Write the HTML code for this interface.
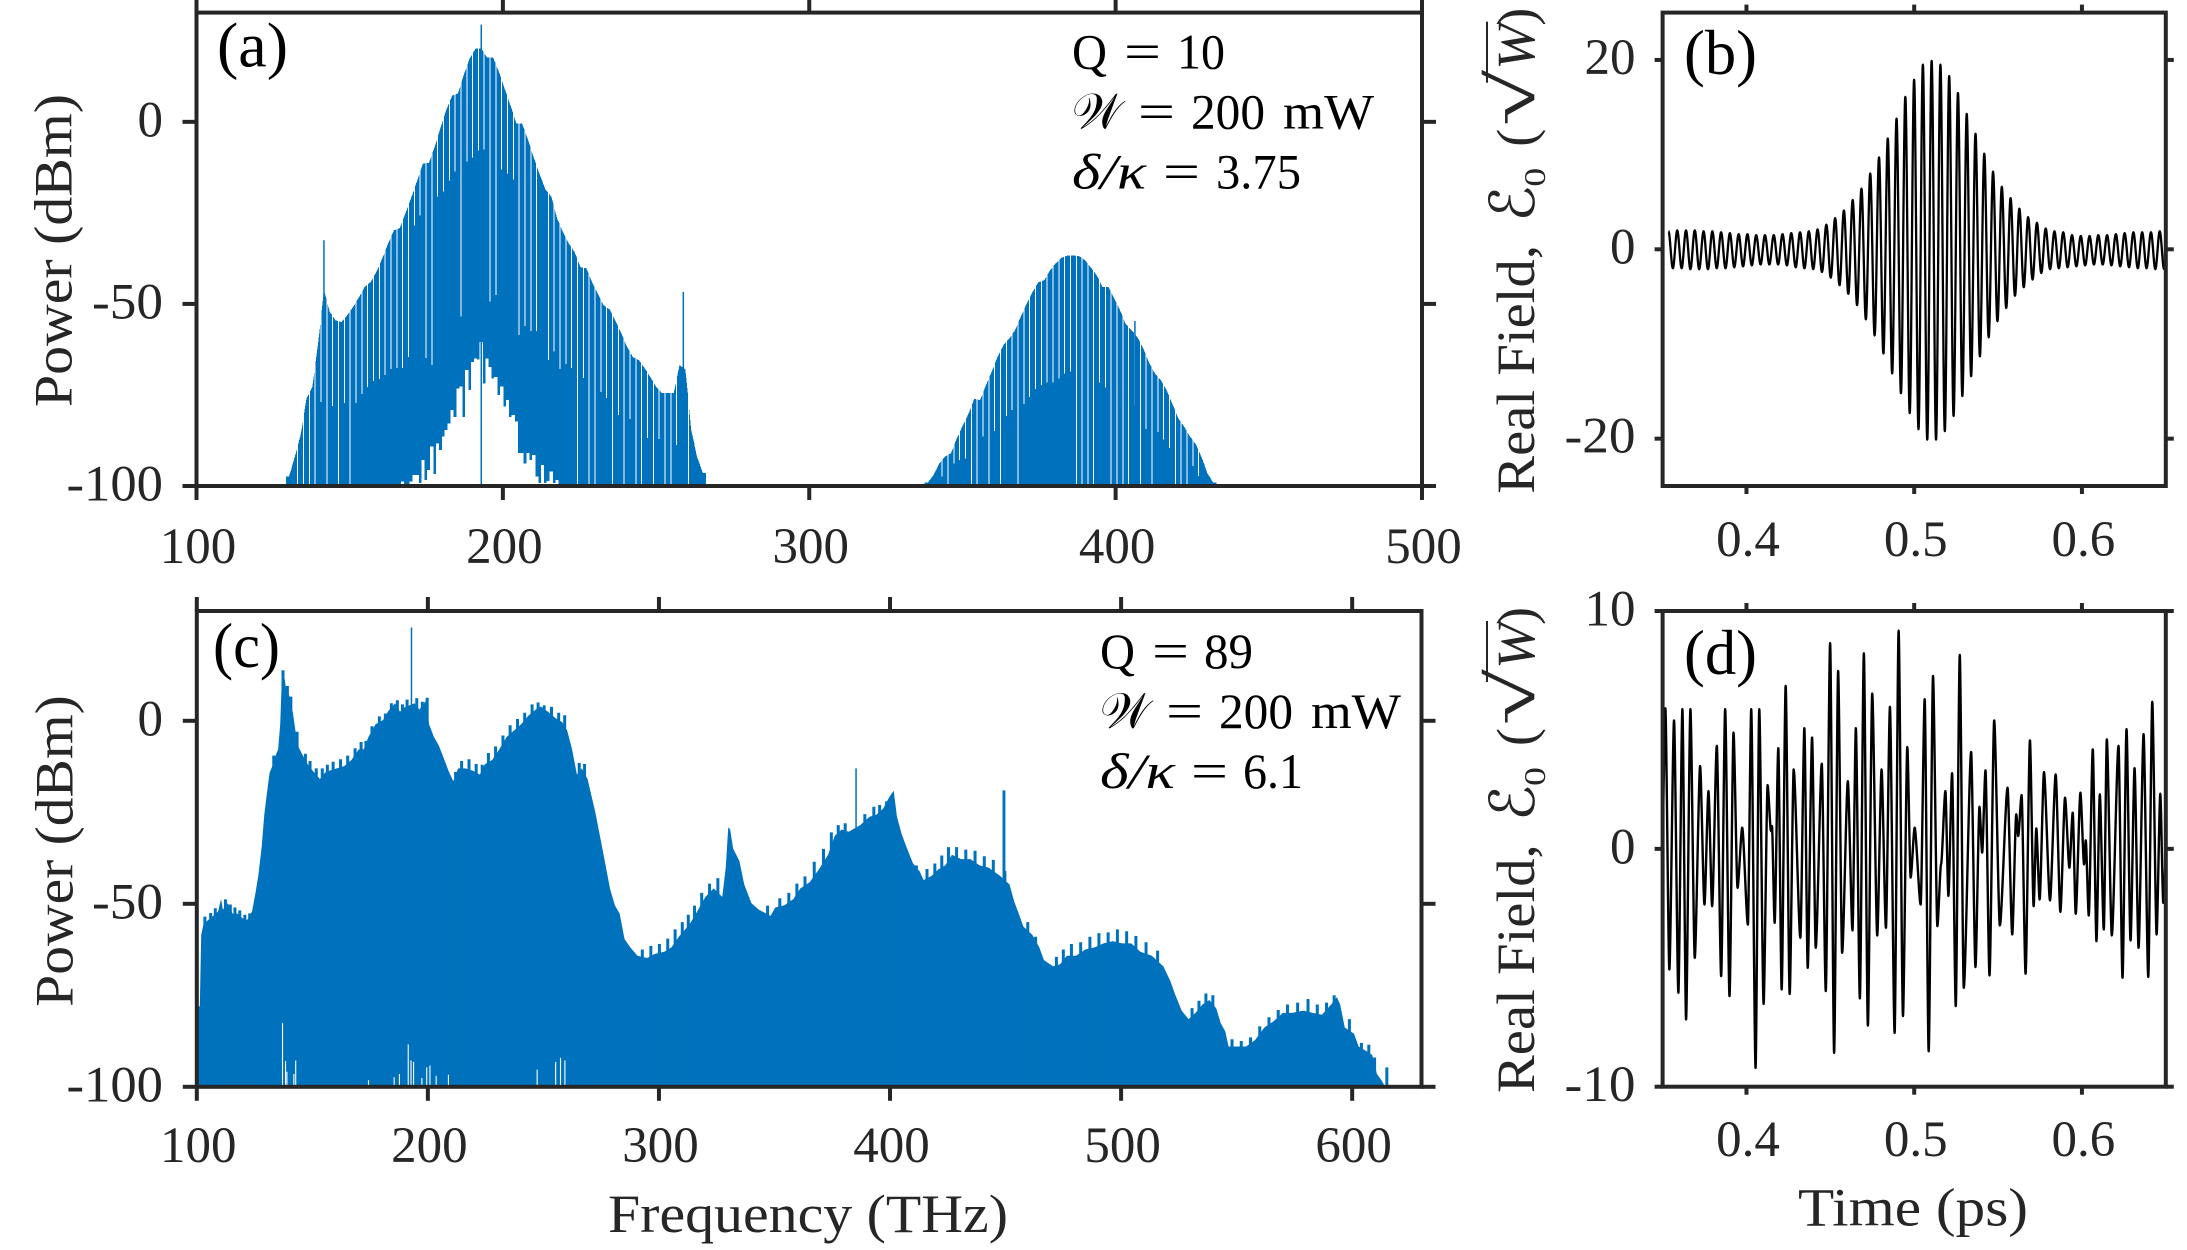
<!DOCTYPE html>
<html lang="en">
<head>
<meta charset="utf-8">
<title>Comb spectra and real field</title>
<style>
html,body{margin:0;padding:0;background:#fff;}
svg{display:block;}
text{font-family:"Liberation Serif","DejaVu Serif",serif;fill:#262626;}
.tick-label{font-size:51px;}
.axis-title{font-size:54px;}
.note text{font-size:50px;fill:#000;}
.panel-tag{font-size:64px;fill:#000;}
.spine{fill:none;stroke:#262626;stroke-width:4;}
.tick{stroke:#262626;stroke-width:4;}
</style>
</head>
<body>
<svg id="figure" xmlns="http://www.w3.org/2000/svg" width="2187" height="1250" viewBox="0 0 2187 1250">
  <defs>
    <clipPath id="clipA"><rect x="196.5" y="12.6" width="1225.5" height="473.4"/></clipPath>
    <clipPath id="clipB"><rect x="1662.6" y="12.6" width="503.2" height="473.4"/></clipPath>
    <clipPath id="clipC"><rect x="196.8" y="611" width="1224.7" height="475.6"/></clipPath>
    <clipPath id="clipD"><rect x="1662.6" y="611" width="503.2" height="475.6"/></clipPath>
  </defs>
  <rect x="0" y="0" width="2187" height="1250" fill="#fff"/>

  <g id="marksA" clip-path="url(#clipA)"></g>
  <g id="marksB" clip-path="url(#clipB)"></g>
  <g id="marksC" clip-path="url(#clipC)"></g>
  <g id="marksD" clip-path="url(#clipD)"></g>
  <g id="axes"></g>

  <text class="panel-tag" x="217" y="66.5" textLength="71" lengthAdjust="spacingAndGlyphs">(a)</text>
  <text class="panel-tag" x="1684" y="74" textLength="73" lengthAdjust="spacingAndGlyphs">(b)</text>
  <text class="panel-tag" x="213" y="667" textLength="67" lengthAdjust="spacingAndGlyphs">(c)</text>
  <text class="panel-tag" x="1684" y="674" textLength="73" lengthAdjust="spacingAndGlyphs">(d)</text>

  <g class="note">
    <text x="1072" y="68.4" textLength="35" lengthAdjust="spacingAndGlyphs">Q</text>
    <text x="1124" y="68.4" textLength="37" lengthAdjust="spacingAndGlyphs">=</text>
    <text x="1177" y="68.4" textLength="48" lengthAdjust="spacingAndGlyphs">10</text>
  </g>
  <g class="note">
    <text x="1072" y="128.4" textLength="50" lengthAdjust="spacingAndGlyphs">𝒲</text>
    <text x="1138" y="128.4" textLength="37" lengthAdjust="spacingAndGlyphs">=</text>
    <text x="1191" y="128.4" textLength="74" lengthAdjust="spacingAndGlyphs">200</text>
    <text x="1283" y="128.4" textLength="91" lengthAdjust="spacingAndGlyphs">mW</text>
  </g>
  <g class="note">
    <text x="1072" y="188.7" font-style="italic" textLength="74" lengthAdjust="spacingAndGlyphs">δ/κ</text>
    <text x="1163" y="188.7" textLength="37" lengthAdjust="spacingAndGlyphs">=</text>
    <text x="1216" y="188.7" textLength="85" lengthAdjust="spacingAndGlyphs">3.75</text>
  </g>

  <g class="note">
    <text x="1100" y="668" textLength="35" lengthAdjust="spacingAndGlyphs">Q</text>
    <text x="1152" y="668" textLength="37" lengthAdjust="spacingAndGlyphs">=</text>
    <text x="1204" y="668" textLength="49" lengthAdjust="spacingAndGlyphs">89</text>
  </g>
  <g class="note">
    <text x="1100" y="728" textLength="50" lengthAdjust="spacingAndGlyphs">𝒲</text>
    <text x="1166" y="728" textLength="37" lengthAdjust="spacingAndGlyphs">=</text>
    <text x="1219" y="728" textLength="74" lengthAdjust="spacingAndGlyphs">200</text>
    <text x="1311" y="728" textLength="90" lengthAdjust="spacingAndGlyphs">mW</text>
  </g>
  <g class="note">
    <text x="1100" y="787.8" font-style="italic" textLength="75" lengthAdjust="spacingAndGlyphs">δ/κ</text>
    <text x="1191" y="787.8" textLength="37" lengthAdjust="spacingAndGlyphs">=</text>
    <text x="1243" y="787.8" textLength="60" lengthAdjust="spacingAndGlyphs">6.1</text>
  </g>

  <text class="axis-title" transform="translate(71.5,407) rotate(-90)" textLength="313" lengthAdjust="spacingAndGlyphs">Power (dBm)</text>
  <text class="axis-title" transform="translate(72.7,1006.7) rotate(-90)" textLength="311.5" lengthAdjust="spacingAndGlyphs">Power (dBm)</text>
  <text class="axis-title" x="608" y="1232" textLength="400" lengthAdjust="spacingAndGlyphs">Frequency (THz)</text>
  <text class="axis-title" x="1798" y="1225.5" textLength="230" lengthAdjust="spacingAndGlyphs">Time (ps)</text>

  <g transform="translate(1534,493.7) rotate(-90)">
    <text class="axis-title" x="0" y="0" textLength="248.7" lengthAdjust="spacingAndGlyphs">Real Field,</text>
    <text x="272" y="0" font-size="62" textLength="36" lengthAdjust="spacingAndGlyphs">ℰ</text>
    <text x="307" y="11" font-size="31" textLength="19" lengthAdjust="spacingAndGlyphs">0</text>
    <text class="axis-title" x="347" y="0">(</text>
    <text x="368" y="0" font-size="66" textLength="56" lengthAdjust="spacingAndGlyphs">√</text>
    <line x1="411" y1="-47" x2="472" y2="-47" stroke="#262626" stroke-width="2"/>
    <text class="axis-title" x="424" y="0" font-style="italic" textLength="46" lengthAdjust="spacingAndGlyphs">W</text>
    <text class="axis-title" x="468" y="0">)</text>
  </g>
  <g transform="translate(1534,1093) rotate(-90)">
    <text class="axis-title" x="0" y="0" textLength="248.7" lengthAdjust="spacingAndGlyphs">Real Field,</text>
    <text x="272" y="0" font-size="62" textLength="36" lengthAdjust="spacingAndGlyphs">ℰ</text>
    <text x="307" y="11" font-size="31" textLength="19" lengthAdjust="spacingAndGlyphs">0</text>
    <text class="axis-title" x="347" y="0">(</text>
    <text x="368" y="0" font-size="66" textLength="56" lengthAdjust="spacingAndGlyphs">√</text>
    <line x1="411" y1="-47" x2="472" y2="-47" stroke="#262626" stroke-width="2"/>
    <text class="axis-title" x="424" y="0" font-style="italic" textLength="46" lengthAdjust="spacingAndGlyphs">W</text>
    <text class="axis-title" x="468" y="0">)</text>
  </g>
</svg>

<script>
// ---------- Panel (a): comb spectrum (THz, dBm) ----------
var combSpacingA = 1.9027;
var lobe1StartA = 130.18;
var lobe1PeaksA = [-97.4,-92,-86,-76,-72.8,-60.8,-46.2,-52.2,-54.5,-55,-53.1,-50.8,-48.2,-45.3,-44,-41.2,-37.5,-33.4,-29.8,-29.2,-25,-20.7,-16.1,-11.4,-11.3,-6.8,-1.6,3.4,7.2,7.8,13,17.4,20.1,20.1,17.7,17.7,13.8,9.1,4.5,-0.4,-0.5,-4.9,-9.8,-14.4,-18.6,-20.5,-26.5,-30.3,-33.4,-35.8,-39.9,-40.2,-44,-47.3,-50.4,-51.5,-54.7,-58,-61.8,-64.6,-65.4,-67.6,-70.1,-72.8,-74.5,-74.5,-74.5,-66.8,-68,-84.6,-92,-96.4];
var lobe1TroughsA = [null,-100,-100,-100,-100,-77,-100,-78,-100,-77.2,-100,-77.2,-74.8,-72.8,-71.2,-70.6,-69.5,-67.9,-67.6,-67.6,-64.6,-28.4,-25.7,-64.9,-66.8,-20.5,-19.1,-16.1,-13.6,-53.4,-10.9,-9.8,-7.9,-7.6,-49.3,-47.6,-13.1,-14.2,-15.8,-58.6,-56.1,-57.5,-57.5,null,-65.4,-63,-67.9,-66.5,-67.6,-100,-70.4,-100,-100,-74.2,-75.9,-100,-80.5,-100,-81.6,-100,-100,-86.8,-100,-87.1,-100,-100,-88.7,null,-100,null,null,null];
var lobe2StartA = 338.63;
var lobe2PeaksA = [-99.1,-97,-93.8,-91.9,-91,-86.9,-83.5,-80.2,-76.1,-76.4,-72.3,-68.6,-64.5,-61.3,-59.5,-57.2,-53.4,-49.9,-46.7,-44,-43.5,-40.8,-38.8,-37.3,-36.7,-36.7,-36.9,-38,-40,-42.1,-45.3,-45.3,-48.5,-51.7,-55.6,-57.2,-59.2,-62.2,-66.2,-69.1,-70.9,-73.7,-77.5,-81.4,-83.7,-86.4,-88.5,-92.1,-96.5,-99.1];
var lobe2TroughsA = [null,null,-97.4,-100,-93.8,-92.8,-92.4,-100,-100,-86.4,-100,-84.9,-100,-80.8,-79.1,-100,-77.5,-75.5,-73.4,-72.3,-71.6,-71.6,-70.5,-69.1,-68.6,-100,-100,-100,-100,-71.6,-72.9,-100,-100,-100,-100,-77.8,-100,-84.3,-100,-85.2,-87.2,-89.6,-100,-100,-100,-94.5,-97.2,null,null,null];
var floorStartA = 166.74;
var floorStepA = 0.9513;
var floorLevelsA = [-98.8,-99.4,-99.4,-98.8,-97,-97,-99.2,-92.8,-98.3,-95.6,-89.2,-96.7,-88.3,-90.1,-86.4,-84.6,-82.8,-79.1,-81,-73.2,-72.7,-81,-68.2,-73.7,-65.9,-65,-65.3,-60.4,-71.8,-65,-67.3,-70.5,-70,-75,-72.7,-78.2,-76.4,-81,-80.5,-82.3,-91,-91,-93.8,-91,-92.8,-91.5,-97.4,-99.2,-94.2,-99.2,-98.6,-96,-99.2,-98.3,-99.4];
var spikeFreqsA = [141.6,192.95,258.9,406.3];
var spikePowersA = [-32.5,26.7,-46.7,-54.7];
var xTicksA = [100,200,300,400,500];
var yTicksA = [0,-50,-100];

// ---------- Panel (c): dense spectrum envelope (THz, dBm) ----------
var envFreqC = [100,101.3,101.9,102.9,105,107.1,109.2,110.5,111.3,113.4,115.5,117.6,119.7,121.8,123.9,125.4,126.6,128.1,129.2,130.2,131.5,132.7,134,135.2,136.1,136.9,137.8,138.6,139.9,141.5,142.8,144.1,146,148,150.1,153.3,155.4,157.5,160.6,163.8,166.9,170.1,172.2,174.3,177.4,180.6,182.7,185.8,187.9,190,194.2,196.3,199,200.5,202.6,204.7,206.8,208.9,211,213.1,216.2,219.4,222.5,224.6,227.8,230.9,234.1,237.2,240.4,243.5,246.7,248.8,251.9,255.1,258.2,260.3,262.4,264.5,266.6,269.1,270.8,272.5,273.9,275,277.1,278.8,280.9,283,285.1,287.6,290.7,294.9,298.1,302.3,305.4,308.6,311.7,313.8,317,320.1,323.7,327.4,328.9,330,330.8,332.1,334.8,336.9,340,343.2,348.3,350.3,354.3,358.2,361.2,365.2,369.2,373.2,376.1,379.1,382.1,387.1,391.1,394,397,400,401.6,403,405,407,409.9,412.9,414.5,417.9,420.9,423.9,426.8,430.8,434.8,438.8,442.7,447.7,451.7,453.7,455.7,457.7,461.6,464.6,466.6,470.6,473.6,476.5,480.5,484.5,488.5,492.4,496.4,500.4,504.4,508.3,513.3,518.3,521.3,523.3,526.2,529.2,532.2,535.2,538.2,541.2,543.1,545.1,546.5,550.1,554.1,558,562,566,570,574,578.9,582.9,586.9,590.9,593.4,594.8,596.8,600.8,602.8,605.8,608.7,610.7,612.7,613.7];
var envPowerC = [-78,-78,-58.5,-55.6,-54.4,-53.3,-52.1,-48.7,-51.6,-49.8,-52.7,-52.7,-53.9,-54.4,-52.1,-47,-42.4,-34.3,-25.7,-20.5,-14.2,-12.4,-9.6,-7.8,-0.9,13.2,12.3,8.9,7.1,2.5,-3.2,-7.3,-9.6,-11.9,-13.6,-15.9,-14.2,-13.6,-13,-12.4,-10.7,-7.8,-7.8,-4.4,-0.9,0.2,2.5,4.8,2.5,3.7,4.8,3.1,5.4,-0.9,-4.4,-6.7,-10.1,-13.6,-16.5,-13,-13,-13.6,-14.7,-11.9,-10.7,-7.8,-4.4,-2.7,-0.9,1.4,3.1,3.9,2.5,0.8,-0.4,-2.7,-7.8,-14.7,-13,-15.9,-20.5,-25.1,-29.7,-33.2,-40.1,-45.8,-50.4,-52.7,-59.6,-61.9,-64.2,-64.8,-63.7,-63.1,-61.9,-59,-56.7,-55,-51.6,-48.1,-45.8,-48.1,-40.1,-29.1,-29.7,-34.9,-38.3,-44.7,-49.8,-51.6,-53.3,-51,-50.4,-48.7,-45.8,-44.1,-40.6,-36.6,-31.4,-29.7,-30.3,-28.5,-26.2,-25.7,-24,-20.5,-19.1,-26.2,-30.9,-34.3,-38.9,-41.2,-43.5,-42.4,-40.6,-39.5,-36.6,-37.8,-37.8,-39.5,-40.1,-42.4,-44.7,-49.3,-52.7,-56.2,-58.5,-61.9,-65.4,-67.1,-66.5,-64.2,-64.2,-62.5,-61.9,-60.8,-60.2,-60.8,-60.8,-63.1,-64.2,-67.1,-71.1,-74.6,-79.2,-81.5,-79.8,-77.5,-76.3,-78.6,-82.6,-84.9,-89,-89,-89,-87.2,-83.8,-82.1,-79.8,-79.8,-79.2,-79.8,-80.3,-77.5,-75.5,-77.5,-83.8,-85.5,-89,-90.1,-91.3,-96.5,-98.2,-99.3];
var rippleFreqsC = [103.5,106,108,112.4,114.5,116.5,118.6,120.8,122.9,133.3,137.3,139.2,140.7,143.4,147,149,151.7,154.3,156.5,159,162.2,165.3,168.5,171.1,173.2,175.8,179,181.6,184.2,186.8,189,191,195.2,197.6,199.7,212,214.6,217.8,220.9,223.5,226.2,229.3,232.5,235.6,238.8,241.9,245.1,247.7,250.3,253.5,256.6,259.2,265.5,267.8,292.8,296.5,300.2,303.8,307,310.1,312.7,315.4,318.5,321.9,325.5,347,352.3,356.2,359.7,363.2,367.2,371.2,374.6,377.6,380.6,389.1,393,395.5,398.5,411.4,416,419.4,422.4,425.3,428.8,432.8,436.8,440.8,444.7,449.7,459.6,463,472,475,478.5,482.5,486.5,490.4,494.4,498.4,502.4,506.4,510.8,515.8,530.7,533.7,536.7,539.7,548,552,556,560,564,568,572,576.4,580.9,584.9,588.9,592.2,598.8,604,607.2,609.7,615];
var ripplePowersC = [-53.5,-52.5,-51.2,-48.8,-50.2,-51,-51.8,-53,-52.6,-9.5,13.8,9.5,6.6,-3,-9,-11,-13,-13,-12,-11.2,-10.5,-9.5,-7.5,-5.8,-5.5,-1.5,1.2,2,4.8,5.6,4.5,5.8,6.2,5.2,6.3,-14,-11,-10.5,-11.8,-12,-8.8,-7,-4,-1.2,0.5,2.2,4.5,5,4.2,3.8,2.2,1.5,-11.5,-11.8,-62.5,-61.5,-61,-59.5,-57,-55,-53,-50.5,-47,-44.5,-43,-50.5,-48.5,-47,-44.5,-42.5,-38.5,-35,-30.5,-28.5,-28,-25.5,-23.5,-23,-22,-39.5,-40.5,-39,-36.8,-34.5,-34.5,-35.2,-35.5,-37,-38,-41,-55,-59,-64.5,-62.5,-61,-60.5,-59,-58,-57.8,-57,-57.5,-58.8,-60.5,-62.8,-78.5,-76.5,-74.5,-75,-87,-87.5,-86.5,-83.5,-81,-79,-77.5,-77,-76,-77.5,-77,-75,-81.5,-88,-88.5,-92,-94.7];
var spikeFreqsC = [192.9,385.3,449,449.6];
var spikePowersC = [25.5,-13,-19,-19];
var notchFreqsC = [137.1,138.4,139,142,142.8,174.3,185.4,187.7,191.5,192.7,193.8,197.4,199.5,200.9,203.6,208.9,247.3,255.3,257.4,259.3];
var notchTopsC = [-82.6,-93,-95.9,-96.5,-92.8,-98.2,-97.4,-96.5,-88.4,-92.8,-93.2,-97.6,-94.7,-94.2,-97,-96.7,-95.3,-93.2,-92.1,-92.8];
var xTicksC = [100,200,300,400,500,600];
var yTicksC = [0,-50,-100];

// ---------- Panel (b): pulse field extrema ----------
var fieldStartB = 0.3535;
var fieldStepB = 0.002615;
var fieldValuesB = [1.9,-2,2,-2,2,-2.1,2,-2.1,1.9,-2.1,1.9,-2,1.8,-2,1.7,-1.9,1.6,-1.8,1.6,-1.7,1.5,-1.6,1.5,-1.6,1.5,-1.6,1.6,-1.7,1.7,-1.9,1.8,-2,1.9,-2.1,2.1,-2.4,2.6,-3,3.3,-3.8,4.1,-4.7,5.2,-5.9,6.4,-7.4,8,-9.1,9.7,-11,11.7,-13.1,13.8,-15.2,16.1,-17.3,17.9,-19,19.5,-20.1,19.9,-20.1,19.5,-19.2,18.3,-17.6,16.5,-15.5,14.3,-13.4,12.2,-11.3,10.1,-9.3,8.2,-7.6,6.6,-6.2,5.4,-4.9,4.3,-4,3.4,-3.2,2.8,-2.5,2.2,-2.1,1.9,-2,1.8,-1.9,1.5,-1.8,1.4,-1.7,1.4,-1.6,1.5,-1.6,1.5,-1.7,1.6,-1.8,1.7,-1.9,1.8,-2,1.8,-2,1.8,-2.1,1.9,-2.1];
var xTicksB = [0.4,0.5,0.6];
var yTicksB = [20,0,-20];

// ---------- Panel (d): chaotic field extrema ----------
var fieldTimesD = [0.35,0.35164,0.35403,0.35682,0.35941,0.3618,0.36399,0.36658,0.36917,0.37236,0.37495,0.37734,0.37953,0.38232,0.38491,0.3873,0.38989,0.39228,0.39467,0.39746,0.40085,0.40284,0.40543,0.40763,0.41022,0.41261,0.4146,0.4152,0.41679,0.41898,0.42098,0.42337,0.42576,0.42815,0.43213,0.43452,0.43652,0.43911,0.4413,0.44489,0.44728,0.44987,0.45226,0.45465,0.45704,0.46043,0.46321,0.46521,0.4676,0.46999,0.47238,0.47497,0.47796,0.48055,0.48314,0.48553,0.48832,0.49071,0.4933,0.49589,0.49788,0.50027,0.50385,0.50624,0.50863,0.51122,0.51381,0.51601,0.5186,0.52039,0.52258,0.52477,0.52716,0.52955,0.53394,0.53653,0.53892,0.54051,0.5425,0.54489,0.54769,0.55107,0.55566,0.55845,0.56084,0.56203,0.56402,0.56641,0.569,0.5712,0.57279,0.57478,0.57737,0.58096,0.58435,0.58714,0.58993,0.59251,0.59451,0.5963,0.59909,0.60128,0.60228,0.60407,0.60646,0.60866,0.61065,0.61304,0.61483,0.61782,0.6218,0.62419,0.62658,0.62898,0.63137,0.63376,0.63675,0.63954,0.64193,0.64452,0.64671,0.6485,0.65];
var fieldValuesD = [1,5.91,-5.07,5.4,-6.05,5.87,-7.17,5.87,-4.58,3.48,-2.34,2.43,-2.41,4.33,-5.35,5.87,-6.19,4.89,-1.64,0.89,-3.18,5.87,-9.21,5.87,-6.52,2.68,0.75,0.96,-3.11,4.23,-5.91,6.85,-6.1,3.34,-3.74,5.07,-5,4.68,-4.16,3.58,-5.98,8.65,-8.58,7.48,-4.37,2.85,-3.43,5.07,-6.29,8.22,-7.43,6.53,-3.64,3.34,-3.32,5.97,-7.74,9.17,-7.03,4.28,-1.21,0.89,-2.34,6.29,-8.51,7.27,-3.25,-0.65,2.43,-1.98,3.18,-6.61,8.15,-5.84,4.07,-4.97,1.77,-0.16,3.3,-5.32,5.4,-3.22,2.57,-3.6,1.45,0.54,2.26,-5.25,4.56,-2.41,0.86,-2.13,3.23,-2.17,3.13,-2.65,2.15,-0.79,1.52,-2.73,2.36,-0.65,0.36,-2.8,4.18,-3.88,2.29,-3.39,4.6,-3.64,4.33,-5.42,5.03,-3.85,3.39,-4.16,4.82,-5.38,6.18,-3.6,2.32,-2.27,-0.5];
var xTicksD = [0.4,0.5,0.6];
var yTicksD = [10,0,-10];

// ---------- Axis functions ----------
function linear(d0, d1, r0, r1) {
  return function (v) { return r0 + (v - d0) * (r1 - r0) / (d1 - d0); };
}
var xA = linear(100, 500, 196.5, 1422);
var yA = linear(-100, 30, 486, 12.6);
var xC = linear(100, 630, 196.8, 1421.5);
var yC = linear(-100, 30, 1086.8, 611);
var xB = linear(0.35, 0.65, 1662.6, 2165.8);
var yB = linear(-25, 25, 486, 12.6);
var xD = linear(0.35, 0.65, 1662.6, 2165.8);
var yD = linear(-10, 10, 1086.7, 611);

var NS = 'http://www.w3.org/2000/svg';
var BLUE = '#0072BD';

function shape(parent, tag, attrs) {
  var el = document.createElementNS(NS, tag);
  for (var k in attrs) { el.setAttribute(k, attrs[k]); }
  parent.appendChild(el);
  return el;
}

// ---------- Draw panel (a) ----------
var marksA = document.getElementById('marksA');
function drawLobe(start, peaks, troughs, lobeName) {
  var i, f, el;
  var halfWidth = combSpacingA / 2;
  for (i = 0; i < peaks.length; i++) {
    f = start + i * combSpacingA;
    var before = i > 0 ? (peaks[i - 1] + peaks[i]) / 2 : peaks[i];
    var after = i < peaks.length - 1 ? (peaks[i] + peaks[i + 1]) / 2 : peaks[i];
    var leftX = xA(f - halfWidth);
    var rightX = xA(f + halfWidth) + 0.2;
    var base = yA(-100);
    el = shape(marksA, 'polygon', {
      points: [
        leftX + ',' + base,
        leftX + ',' + yA(before),
        xA(f) + ',' + yA(peaks[i]),
        rightX + ',' + yA(after),
        rightX + ',' + base
      ].join(' '),
      fill: BLUE,
      'shape-rendering': 'crispEdges'
    });
    
    
  }
  for (i = 0; i < troughs.length; i++) {
    if (troughs[i] === null) { continue; }
    f = start + i * combSpacingA + halfWidth;
    el = shape(marksA, 'line', {
      x1: xA(f), x2: xA(f),
      y1: yA(30), y2: yA(troughs[i]),
      stroke: '#fff',
      'stroke-width': 1,
      'shape-rendering': 'crispEdges'
    });
    
    
  }
}
drawLobe(lobe1StartA, lobe1PeaksA, lobe1TroughsA, 'main-lobe');
drawLobe(lobe2StartA, lobe2PeaksA, lobe2TroughsA, 'second-lobe');

floorLevelsA.forEach(function (level, i) {
  var f = floorStartA + i * floorStepA;
  var el = shape(marksA, 'rect', {
    x: xA(f),
    y: yA(level),
    width: xA(f + floorStepA) - xA(f) + 0.3,
    height: yA(-100) - yA(level),
    fill: '#fff',
    'shape-rendering': 'crispEdges'
  });
  
  
});
spikeFreqsA.forEach(function (f, i) {
  var el = shape(marksA, 'line', {
    x1: xA(f), x2: xA(f),
    y1: yA(-100), y2: yA(spikePowersA[i]),
    stroke: BLUE,
    'stroke-width': 1.5
  });
  
  
});

// ---------- Draw panel (c) ----------
var marksC = document.getElementById('marksC');
var envPoints = [[xC(envFreqC[0]), yC(-100)]];
envFreqC.forEach(function (f, i) { envPoints.push([xC(f), yC(envPowerC[i])]); });
envPoints.push([xC(envFreqC[envFreqC.length - 1]), yC(-100)]);
var envArea = shape(marksC, 'polygon', {
  points: envPoints.map(function (p) { return p[0].toFixed(2) + ',' + p[1].toFixed(2); }).join(' '),
  fill: BLUE
});


rippleFreqsC.forEach(function (f, i) {
  var el = shape(marksC, 'line', {
    x1: xC(f), x2: xC(f),
    y1: yC(-100), y2: yC(ripplePowersC[i]),
    stroke: BLUE,
    'stroke-width': 3
  });
  
  
});
spikeFreqsC.forEach(function (f, i) {
  var el = shape(marksC, 'line', {
    x1: xC(f), x2: xC(f),
    y1: yC(-100), y2: yC(spikePowersC[i]),
    stroke: BLUE,
    'stroke-width': 1.5
  });
  
  
});
notchFreqsC.forEach(function (f, i) {
  var el = shape(marksC, 'line', {
    x1: xC(f), x2: xC(f),
    y1: yC(-100), y2: yC(notchTopsC[i]),
    stroke: '#fff',
    'stroke-width': 1.1
  });
  
  
});

// ---------- Draw panels (b) and (d): rounded peaks between extrema ----------
function smoothPath(points, tension) {
  var d = 'M' + points[0][0].toFixed(2) + ' ' + points[0][1].toFixed(2);
  for (var i = 1; i < points.length; i++) {
    var a = points[i - 1];
    var b = points[i];
    var c = (b[0] - a[0]) * tension;
    d += 'C' + (a[0] + c).toFixed(2) + ' ' + a[1].toFixed(2) + ' ' + (b[0] - c).toFixed(2) + ' ' + b[1].toFixed(2) + ' ' + b[0].toFixed(2) + ' ' + b[1].toFixed(2);
  }
  return d;
}
var fieldPointsB = fieldValuesB.map(function (v, i) {
  return [xB(fieldStartB + i * fieldStepB), yB(v)];
});
var traceB = shape(document.getElementById('marksB'), 'path', {
  d: smoothPath(fieldPointsB, 0.35),
  fill: 'none',
  stroke: '#000',
  'stroke-width': 2.3,
  'stroke-linejoin': 'round'
});



var fieldPointsD = fieldValuesD.map(function (v, i) {
  return [xD(fieldTimesD[i]), yD(v)];
});
var traceD = shape(document.getElementById('marksD'), 'path', {
  d: smoothPath(fieldPointsD, 0.25),
  fill: 'none',
  stroke: '#000',
  'stroke-width': 2.4,
  'stroke-linejoin': 'round'
});



// ---------- Axes ----------
var axes = document.getElementById('axes');
function drawAxes(name, x, y, xTicks, yTicks, box, tickLen, xLabelBase, yLabelRight, yLabelDrop, xFormat) {
  var spine = shape(axes, 'rect', {
    x: box.left, y: box.top,
    width: box.right - box.left,
    height: box.bottom - box.top,
    'class': 'spine'
  });
  
  

  xTicks.forEach(function (v) {
    var px = x(v);
    var lower = shape(axes, 'line', { x1: px, x2: px, y1: box.bottom, y2: box.bottom + tickLen, 'class': 'tick' });
    
    
    var upper = shape(axes, 'line', { x1: px, x2: px, y1: box.top, y2: box.top - tickLen, 'class': 'tick' });
    
    
    var label = shape(axes, 'text', { x: px + 1.5, y: xLabelBase, 'text-anchor': 'middle', 'class': 'tick-label' });
    label.textContent = xFormat(v);
    
    
  });
  yTicks.forEach(function (v) {
    var py = y(v);
    var left = shape(axes, 'line', { x1: box.left, x2: box.left - tickLen, y1: py, y2: py, 'class': 'tick' });
    
    
    var right = shape(axes, 'line', { x1: box.right, x2: box.right + tickLen, y1: py, y2: py, 'class': 'tick' });
    
    
    var labelText = String(v);
    var label = shape(axes, 'text', { x: yLabelRight, y: py + yLabelDrop, 'text-anchor': 'end', 'class': 'tick-label' });
    if (v < 0) {
      label.setAttribute('textLength', (labelText.length - 1) * 25.5 + 20);
      label.setAttribute('lengthAdjust', 'spacingAndGlyphs');
    }
    label.textContent = labelText;
    
    
  });
}
function plain(v) { return String(v); }
function oneDecimal(v) { return v.toFixed(1); }
drawAxes('panel-a', xA, yA, xTicksA, yTicksA, { left: 196.5, right: 1422, top: 12.6, bottom: 486 }, 14, 563, 163, 14.5, plain);
drawAxes('panel-c', xC, yC, xTicksC, yTicksC, { left: 196.8, right: 1421.5, top: 611, bottom: 1086.8 }, 14, 1162, 163, 14.5, plain);
drawAxes('panel-b', xB, yB, xTicksB, yTicksB, { left: 1662.6, right: 2165.8, top: 12.6, bottom: 486 }, 8, 556, 1635.5, 14, oneDecimal);
drawAxes('panel-d', xD, yD, xTicksD, yTicksD, { left: 1662.6, right: 2165.8, top: 611, bottom: 1086.7 }, 8, 1156, 1635.5, 14.5, oneDecimal);
</script>
</body>
</html>
